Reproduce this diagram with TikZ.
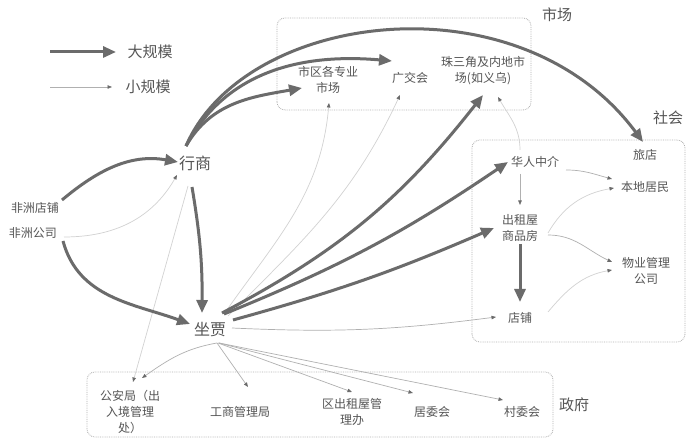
\documentclass[tikz,border=0pt]{standalone}
\usepackage{fontspec}
\setmainfont{Noto Sans CJK SC}
\usetikzlibrary{arrows.meta,calc}
\definecolor{thkc}{HTML}{6B6B6B}
\definecolor{thnc}{HTML}{B0B0B0}
\definecolor{palec}{HTML}{D2D2D2}
\definecolor{txtc}{HTML}{555555}
\definecolor{boxc}{HTML}{B0B0B0}
\begin{document}
\begin{tikzpicture}[x=1pt,y=1pt,
  lbl/.style={text=txtc, font=\fontsize{12}{16}\selectfont, align=center, inner sep=1pt},
  big/.style={text=txtc, font=\fontsize{16}{18}\selectfont, inner sep=1pt},
  grplbl/.style={text=txtc, font=\fontsize{15}{18}\selectfont, inner sep=1pt},
  thk/.style={draw=thkc, line width=3pt, -{Triangle[length=13pt,width=11pt,color=thkc]}},
  thn/.style={draw=thnc, line width=0.7pt, -{Triangle[length=4.5pt,width=3.5pt,color=thkc]}},
  pale/.style={thn, draw=palec},
  grp/.style={draw=boxc, densely dotted, rounded corners=8pt, line width=0.8pt}]
\useasboundingbox[fill=white] (0,0) rectangle (689,438);

% group boxes
\draw[grp] (277,328) rectangle (531,420);
\draw[grp] (472,96) rectangle (685,298);
\draw[grp] (87,1) rectangle (553,66);
\node[grplbl] (Lsc) at (557,423) {市场};
\node[grplbl] (Lsh) at (668,320) {社会};
\node[grplbl] (Lzf) at (574,33) {政府};

% legend
\coordinate (la1) at (50,386);
\coordinate (la2) at (116,386);
\coordinate (lb1) at (50,351);
\coordinate (lb2) at (112,351);
\draw[thk] (la1) -- (la2);
\draw[thn] (lb1) -- (lb2);
\node[grplbl] (Ldg) at (150,386) {大规模};
\node[grplbl] (Lxg) at (148,351) {小规模};

% nodes
\node[big] (xs) at (195,275) {行商};
\node[big] (zg) at (210,108) {坐贾};
\node[lbl] (fd) at (35,230) {非洲店铺};
\node[lbl] (fg) at (33,205) {非洲公司};
\node[lbl] (m1) at (328,358) {市区各专业\\市场};
\node[lbl] (m2) at (410,360) {广交会};
\node[lbl] (m3) at (483,367) {珠三角及内地市\\场(如义乌)};
\node[lbl] (lv) at (645,283) {旅店};
\node[lbl] (hr) at (535,276) {华人中介};
\node[lbl] (bd) at (645,251) {本地居民};
\node[lbl] (cz) at (520,210) {出租屋\\商品房};
\node[lbl] (wy) at (646,167) {物业管理\\公司};
\node[lbl] (dp) at (520,120) {店铺};
\node[lbl] (g1) at (130,26) {公安局（出\\入境管理\\处）};
\node[lbl] (g2) at (240,26) {工商管理局};
\node[lbl] (g3) at (352,26) {区出租屋管\\理办};
\node[lbl] (g4) at (432,26) {居委会};
\node[lbl] (g5) at (522,26) {村委会};

% thin connectors
\draw[pale] ($(fg)+(31,-4)$) to[out=0,in=240] ($(xs)+(-18,-12)$);
\draw[pale] ($(zg)+(14,16)$) to[out=55,in=-95] ($(m1)+(1,-23)$);
\draw[pale] ($(zg)+(18,14)$) to[out=45,in=-115] ($(m2)+(-10,-17)$);
\draw[pale] ($(hr)+(-15,12)$) to[out=90,in=-60] ($(m3)+(15,-26)$);
\draw[thn] ($(hr)+(-15,-12)$) -- ($(cz)+(0,23)$);
\draw[thn] ($(hr)+(31,-8)$) to[out=0,in=165] ($(bd)+(-33,8)$);
\draw[pale] ($(cz)+(28,-5)$) to[out=60,in=190] ($(bd)+(-31,-1)$);
\draw[thn] ($(cz)+(28,-7)$) to[out=0,in=155] ($(wy)+(-34,9)$);
\draw[pale] ($(dp)+(28,6)$) to[out=50,in=190] ($(wy)+(-34,1)$);
\draw[thn] ($(zg)+(22,2)$) to[bend right=5] ($(dp)+(-24,1)$);
\draw[pale] ($(xs)+(-7,-23)$) -- ($(g1)+(3,30)$);
\draw[thn] ($(zg)+(7,-13)$) to[out=190,in=35] ($(g1)+(12,34)$);
\draw[thn] ($(zg)+(7,-13)$) -- ($(g2)+(8,25)$);
\draw[thn] ($(zg)+(8,-13)$) -- ($(g3)+(0,20)$);
\draw[thn] ($(zg)+(9,-13)$) -- ($(g4)+(-19,19)$);
\draw[thn] ($(zg)+(9,-13)$) -- ($(g5)+(-19,12)$);

% thick connectors
\draw[thk] ($(fd)+(27,8)$) to[out=40,in=170] ($(xs)+(-17,1)$);
\draw[thk] ($(fg)+(30,-8)$) to[out=-75,in=160] ($(zg)+(-20,6)$);
\draw[thk] ($(xs)+(-3,-24)$) to[bend left=5] ($(zg)+(-8,17)$);
\draw[thk] ($(xs)+(-9,17)$) to[out=60,in=190] ($(m1)+(-26,-8)$);
\draw[thk] ($(xs)+(-9,17)$) to[out=62,in=175] ($(m2)+(-18,17)$);
\draw[thk] ($(xs)+(-9,17)$) .. controls (245,428) and (520,462) .. ($(lv)+(-2,13)$);
\draw[thk] ($(zg)+(12,17)$) to[bend right=12] ($(m3)+(0,-24)$);
\draw[thk] ($(zg)+(14,16)$) to[bend right=6] ($(hr)+(-27,0)$);
\draw[thk] ($(zg)+(23,10)$) to[bend right=4] ($(cz)+(-26,0)$);
\draw[thk] ($(cz)+(0,-16)$) -- ($(dp)+(0,16)$);
\end{tikzpicture}
\end{document}
